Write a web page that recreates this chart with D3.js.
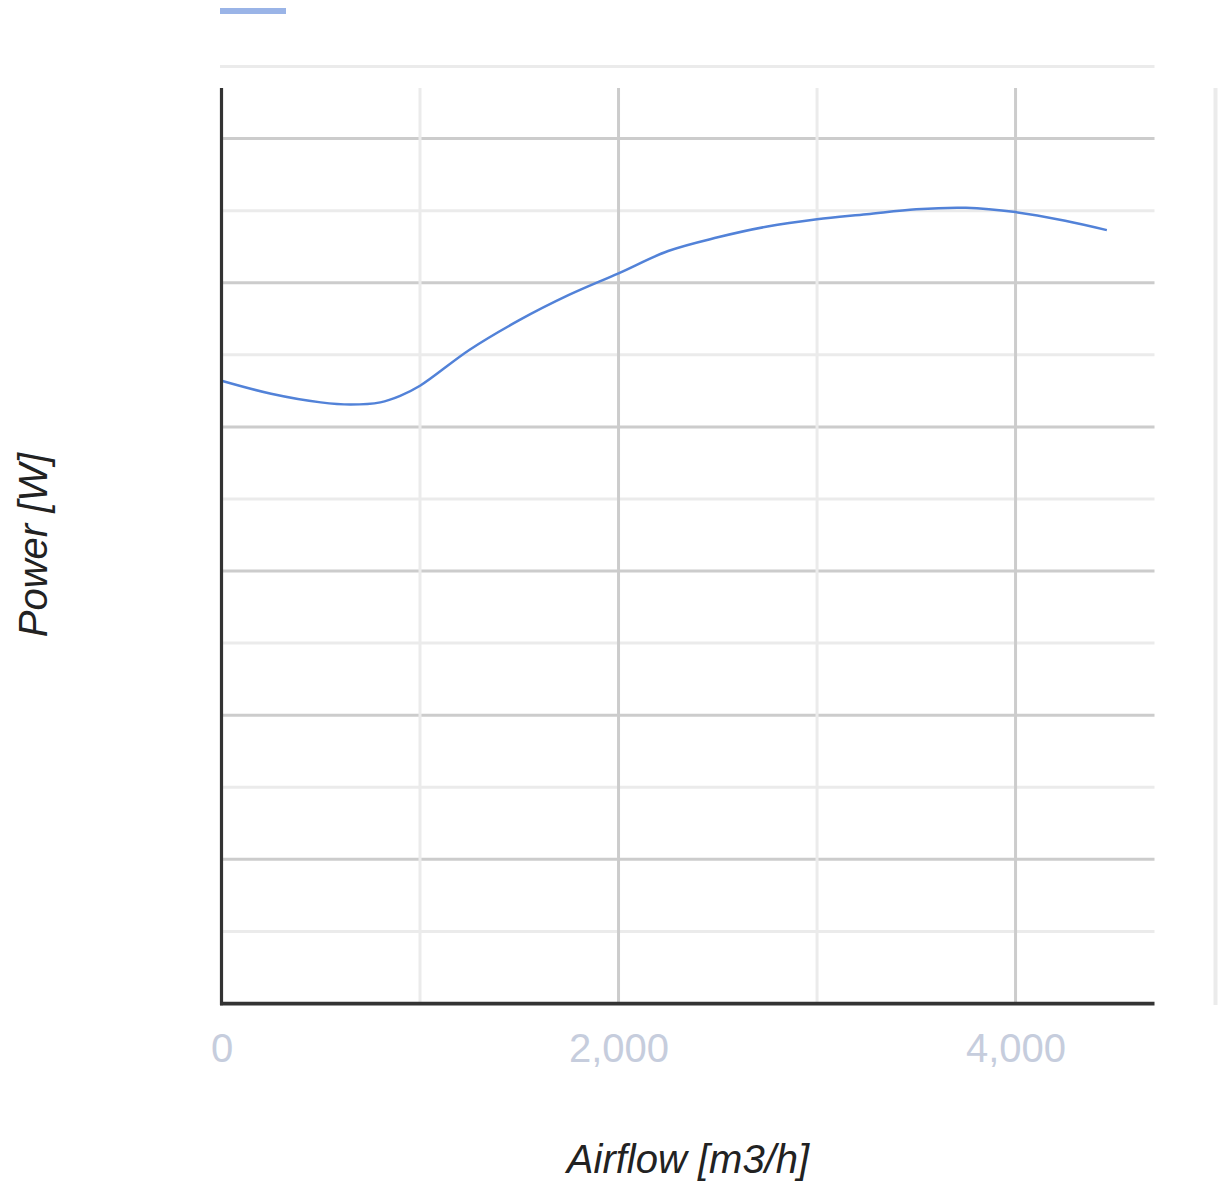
<!DOCTYPE html>
<html>
<head>
<meta charset="utf-8">
<script src="https://cdn.jsdelivr.net/npm/d3@7"></script>
<style>
  html, body { margin: 0; padding: 0; background: #fff; }
  svg { display: block; }
</style>
</head>
<body>
<svg id="chart" width="1221" height="1188"></svg>
<script>
// ---- data ----
const airflow = [0, 250, 500, 650, 800, 900, 1000, 1250, 1500, 1750, 2000, 2250, 2500, 2750, 3000, 3250, 3500, 3750, 4000, 4250, 4460];
const power   = [86.4, 84.6, 83.4, 83.1, 83.4, 84.3, 85.7, 90.7, 94.8, 98.3, 101.3, 104.4, 106.3, 107.8, 108.8, 109.5, 110.2, 110.4, 109.8, 108.6, 107.3];
const xTickLabels = [0, 2000, 4000];
const xGridValues = [1000, 2000, 3000, 4000];
const yGridValues = [10, 20, 30, 40, 50, 60, 70, 80, 90, 100, 110, 120, 130];
const xTitle = "Airflow [m3/h]";
const yTitle = "Power [W]";

(function () {
// ---- layout ----
const svg = d3.select("#chart");
const x = d3.scaleLinear().domain([0, 4700]).range([221.5, 1154.5]);
const y = d3.scaleLinear().domain([0, 130]).range([1003.5, 66.5]);
const areaTop = 88;

const majorC = "#cccccc", minorC = "#ebebeb";

// horizontal gridlines
svg.append("g").selectAll("line").data(yGridValues).join("line")
  .attr("x1", 220).attr("x2", x.range()[1])
  .attr("y1", d => y(d)).attr("y2", d => y(d))
  .attr("stroke", d => d % 20 === 0 ? majorC : minorC)
  .attr("stroke-width", 3);

// vertical gridlines
svg.append("g").selectAll("line").data(xGridValues).join("line")
  .attr("x1", d => x(d)).attr("x2", d => x(d))
  .attr("y1", areaTop).attr("y2", y(0))
  .attr("stroke", d => d % 2000 === 0 ? majorC : minorC)
  .attr("stroke-width", 3);

// right light edge line
svg.append("line")
  .attr("x1", 1215.5).attr("x2", 1215.5).attr("y1", areaTop).attr("y2", 1005)
  .attr("stroke", minorC).attr("stroke-width", 4);

// series line
const line = d3.line()
  .x((d, i) => x(airflow[i]))
  .y(d => y(d))
  .curve(d3.curveCatmullRom.alpha(0.5));
svg.append("path")
  .datum(power)
  .attr("d", line)
  .attr("fill", "none")
  .attr("stroke", "#5282d8")
  .attr("stroke-width", 2.5)
  .attr("stroke-linejoin", "round");

// axes lines
svg.append("line")
  .attr("x1", x(0)).attr("x2", x(0)).attr("y1", areaTop).attr("y2", 1005.3)
  .attr("stroke", "#333333").attr("stroke-width", 3.2);
svg.append("line")
  .attr("x1", 220).attr("x2", x.range()[1]).attr("y1", 1003.6).attr("y2", 1003.6)
  .attr("stroke", "#333333").attr("stroke-width", 3.6);

// x tick labels
const fmt = d3.format(",");
svg.append("g").selectAll("text").data(xTickLabels).join("text")
  .attr("x", d => x(d) + 0.5)
  .attr("y", 1062)
  .attr("text-anchor", "middle")
  .attr("font-family", "Liberation Sans, Arial, sans-serif")
  .attr("font-size", 40)
  .attr("fill", "#c6cddd")
  .text(d => fmt(d));

// axis titles
svg.append("text")
  .attr("x", (x.range()[0] + x.range()[1]) / 2)
  .attr("y", 1173)
  .attr("text-anchor", "middle")
  .attr("font-family", "Liberation Sans, Arial, sans-serif")
  .attr("font-style", "italic")
  .attr("font-size", 40)
  .attr("fill", "#222222")
  .text(xTitle);

svg.append("text")
  .attr("transform", "translate(47,545) rotate(-90)")
  .attr("text-anchor", "middle")
  .attr("font-family", "Liberation Sans, Arial, sans-serif")
  .attr("font-style", "italic")
  .attr("font-size", 40)
  .attr("fill", "#222222")
  .text(yTitle);

// legend swatch
svg.append("rect")
  .attr("x", 220).attr("y", 8).attr("width", 66).attr("height", 6)
  .attr("fill", "#9ab4e7");
})();
</script>
</body>
</html>
